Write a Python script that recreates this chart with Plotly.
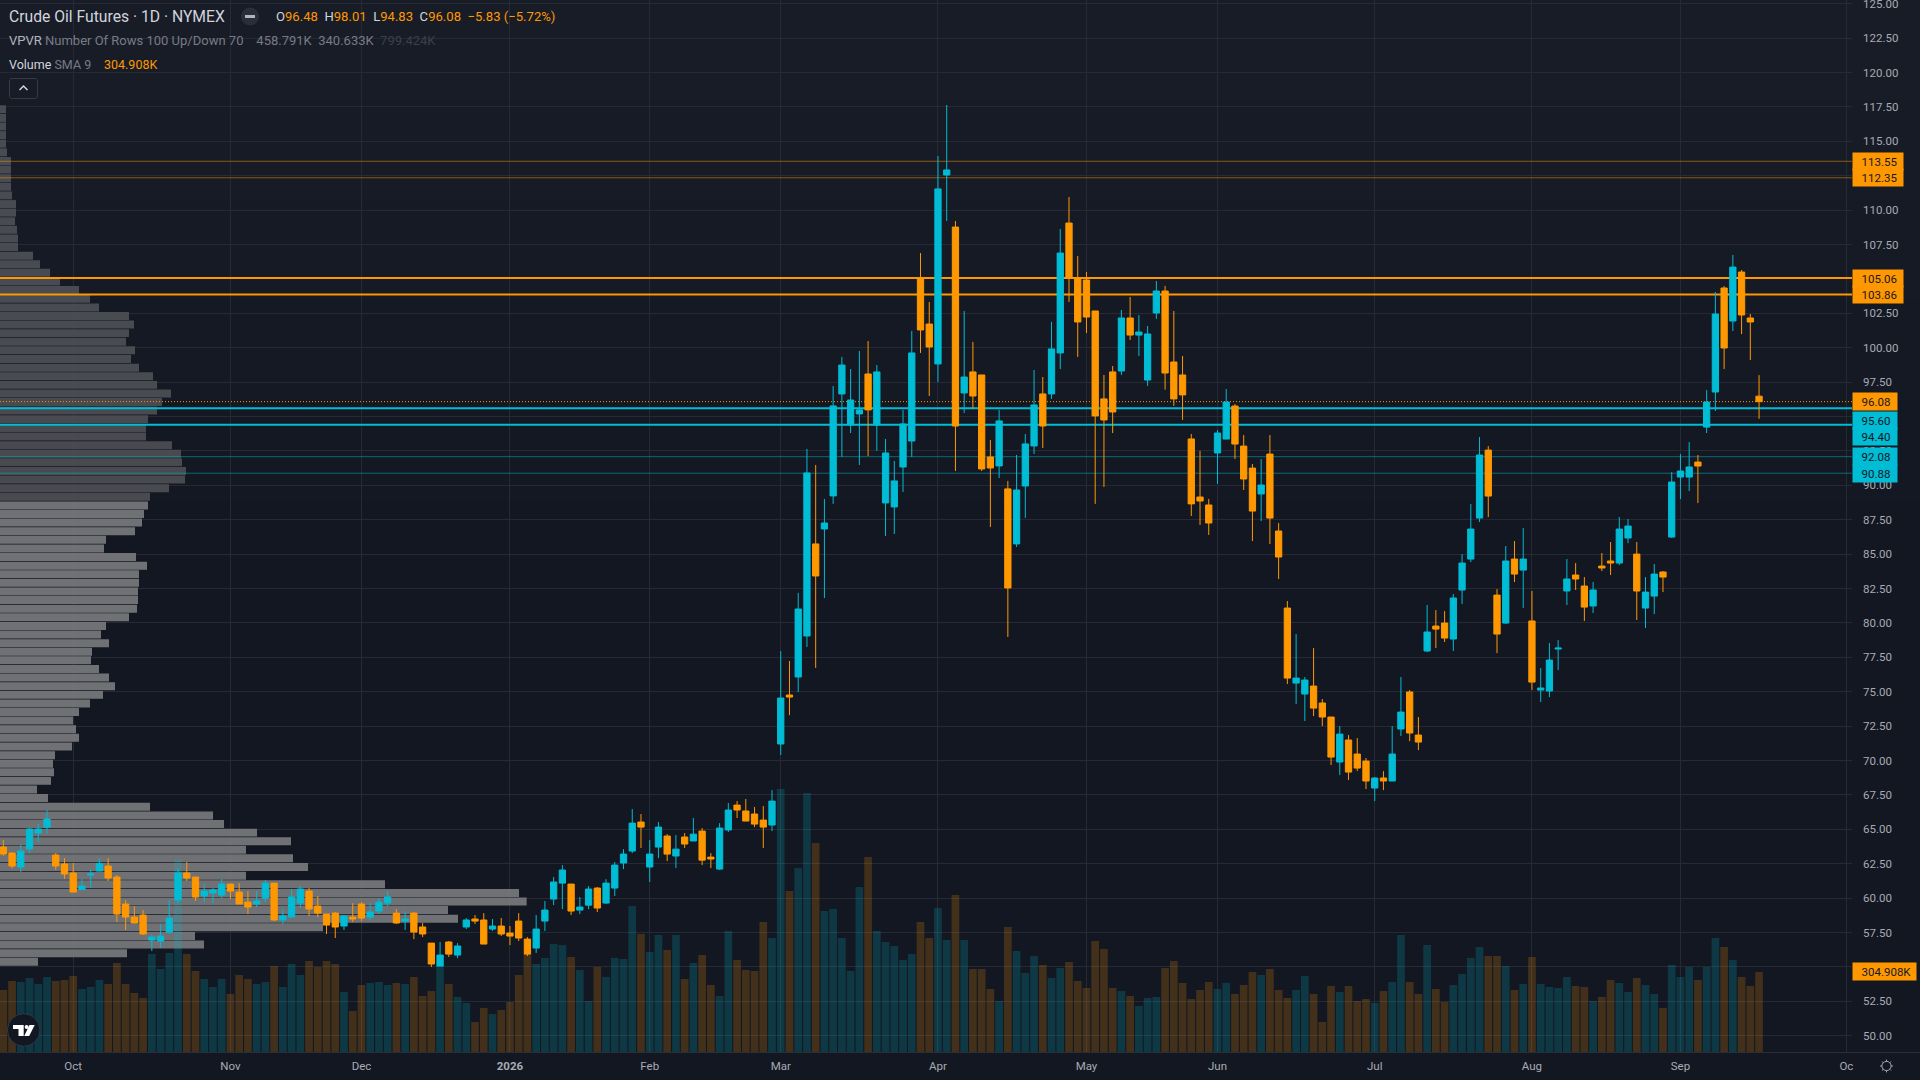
import math
import plotly.graph_objects as go

W, H = 1920, 1080
PLOT_R, PLOT_B = 1852, 1052

opens = [63.71,63.27,62.26,63.57,64.73,65.16,63.13,62.48,61.82,60.63,
61.68,61.97,62.33,61.53,59.57,58.62,58.77,56.95,56.88,57.53,
59.86,61.82,61.53,60.15,60.37,60.22,61.02,60.44,59.71,59.57,
60.00,61.09,58.41,58.62,59.64,60.51,59.42,58.84,58.91,57.97,
58.62,59.57,58.62,59.06,59.64,58.91,58.33,58.91,57.90,56.73,
55.06,56.81,55.86,57.90,58.48,58.41,57.75,57.97,57.46,58.33,
57.02,56.37,58.33,59.93,61.09,61.02,59.13,59.49,60.73,59.64,
60.73,62.55,63.42,65.53,62.26,63.71,64.51,63.06,64.44,64.15,
64.87,62.98,62.11,64.95,66.76,66.33,66.11,65.67,65.31,71.20,
74.76,76.07,79.05,85.74,86.83,89.23,96.64,94.39,95.19,98.09,
94.39,88.72,88.43,91.33,93.22,105.07,101.72,98.82,112.55,108.77,
96.71,98.24,98.02,92.06,91.41,89.74,85.74,89.95,92.86,96.64,
96.64,99.62,109.06,105.07,104.92,102.67,96.28,98.24,98.31,102.16,
100.92,97.65,102.52,104.12,98.96,98.02,93.37,89.15,88.57,92.35,
93.36,95.76,92.85,91.25,89.37,92.27,86.68,81.08,75.63,74.83,
75.41,74.18,73.16,69.89,71.49,70.47,69.96,68.00,68.73,68.51,
72.29,74.98,71.85,77.96,79.77,79.99,78.83,82.39,84.64,87.62,
92.56,82.02,79.99,84.64,83.84,80.14,75.12,75.05,78.10,82.32,
83.48,82.68,81.23,84.13,84.50,84.35,86.17,85.00,81.08,81.95,
83.70,86.24,90.60,90.60,91.69,94.23,96.78,104.34,101.94,105.50,102.16,96.48]

highs = [64.22,63.35,63.90,65.09,65.38,66.40,63.27,62.91,62.55,61.39,
62.11,62.91,62.91,61.68,59.86,59.42,59.13,57.32,58.12,59.86,
62.18,62.62,61.53,61.02,60.73,61.39,61.02,61.09,60.51,60.51,
61.31,61.09,59.21,60.66,60.88,60.73,60.15,58.84,58.99,58.77,
59.64,59.71,59.64,60.00,60.51,59.21,59.06,58.99,58.19,56.73,
56.81,56.88,56.73,58.55,58.77,58.91,58.48,58.55,57.97,58.91,
57.17,58.77,59.79,61.53,62.40,61.02,60.08,60.88,60.80,61.38,
62.62,63.56,66.47,66.11,64.22,65.53,64.65,64.58,64.73,65.82,
65.09,63.27,65.45,66.91,67.05,67.20,66.62,66.69,67.85,77.95,
77.23,82.18,92.64,91.48,89.01,97.22,99.33,98.45,99.76,100.49,
98.74,93.37,91.77,95.48,101.22,106.88,103.32,113.93,117.64,109.21,
102.67,100.42,98.02,93.30,95.48,90.32,92.21,93.73,98.38,97.87,
101.87,108.63,110.95,106.67,105.50,102.67,98.02,98.67,102.74,103.69,
102.38,101.58,104.85,104.49,102.67,99.40,93.73,92.50,89.01,94.02,
97.00,95.91,93.65,91.55,91.91,93.65,87.26,81.59,79.19,76.07,
78.17,74.47,73.16,72.50,71.85,71.63,70.18,68.80,69.23,72.50,
76.07,75.12,73.16,81.30,80.93,80.86,82.10,85.00,88.64,93.51,
92.85,82.46,85.59,85.95,86.89,82.32,76.72,78.54,78.75,84.64,
84.35,83.33,82.97,85.08,85.88,87.69,87.55,85.88,83.33,84.28,
83.77,90.96,92.27,93.14,92.20,96.92,104.05,104.48,106.74,105.65,102.45,98.01]

lows = [63.08,62.18,61.89,63.27,64.07,64.66,62.04,61.39,60.44,60.59,
60.73,61.97,61.24,58.26,57.68,58.19,57.32,56.15,56.37,57.39,
59.64,61.24,59.79,59.71,59.64,60.00,59.93,59.57,58.84,59.35,
59.71,58.33,58.12,58.62,59.28,58.70,58.62,57.39,57.10,57.68,
58.26,58.33,58.41,58.84,59.42,58.12,57.68,57.02,57.17,54.99,
55.06,55.72,55.64,57.75,58.12,56.66,57.61,57.24,56.59,56.88,
55.79,56.01,57.61,59.49,59.20,58.77,58.84,59.20,58.99,59.57,
60.15,62.11,63.27,63.64,61.17,62.91,62.69,62.18,63.64,64.15,
62.40,62.18,62.04,64.80,65.82,65.60,65.16,63.64,64.87,70.40,
73.30,74.97,78.25,76.73,81.81,88.65,92.06,93.80,91.48,92.13,
92.50,86.32,86.46,89.52,92.06,99.62,96.49,97.51,109.21,91.04,
95.26,95.55,91.04,86.97,90.53,78.98,85.52,87.63,92.28,92.71,
96.28,98.45,103.32,99.33,101.07,88.65,89.88,93.80,98.02,100.56,
99.40,97.22,102.09,96.95,95.77,94.75,87.77,87.12,86.39,90.10,
93.36,91.91,89.66,85.95,87.40,85.73,83.19,75.56,74.10,72.87,
73.23,72.50,69.67,68.94,68.58,69.23,67.93,67.05,67.85,68.51,
71.78,71.41,70.76,77.88,78.17,78.61,77.96,81.37,84.42,87.33,
87.69,77.81,79.92,82.97,81.08,75.12,74.25,74.61,76.57,81.30,
82.39,80.14,80.72,83.77,83.48,84.21,85.80,80.21,79.63,80.64,
82.24,86.17,89.00,89.58,88.71,93.80,95.40,98.45,101.21,100.99,99.10,94.83]

closes = [63.20,62.33,63.42,65.02,65.02,65.75,62.33,61.75,60.44,60.88,
61.75,62.52,61.46,58.84,58.62,58.19,57.39,57.17,57.24,58.55,
61.82,61.46,60.08,60.51,60.59,61.02,60.51,59.57,59.35,59.79,
61.09,58.41,58.70,60.08,60.66,59.21,58.91,58.04,57.90,58.70,
58.48,58.55,58.99,59.71,60.08,58.19,58.48,57.53,57.39,55.21,
55.86,55.93,56.52,58.41,58.33,56.66,57.97,57.39,57.24,57.10,
55.93,57.75,59.13,61.17,62.04,59.06,59.35,60.66,59.28,61.09,
62.40,63.20,65.45,65.16,63.20,65.16,63.20,63.56,63.93,64.65,
62.76,62.84,65.09,66.40,66.40,65.60,65.38,65.16,67.05,74.54,
74.61,81.01,90.90,83.41,87.26,95.77,98.74,96.20,95.48,95.48,
98.24,92.35,90.32,94.46,99.62,101.29,100.05,111.54,112.92,94.31,
97.87,96.49,91.19,91.26,94.68,82.54,89.66,93.01,95.84,94.31,
99.91,106.88,105.07,101.87,102.23,95.04,94.75,95.33,102.16,100.92,
101.14,101.00,104.12,98.16,96.28,96.57,88.65,88.86,87.26,93.80,
96.05,93.00,90.46,88.13,90.02,87.62,84.79,75.99,75.99,75.85,
73.81,73.16,70.25,71.92,69.16,69.45,68.51,68.73,68.51,70.47,
73.52,72.00,71.34,79.34,79.55,78.90,81.81,84.35,86.82,92.20,
89.22,79.19,84.50,83.55,84.64,75.70,75.27,77.30,78.17,83.19,
83.19,81.15,82.39,83.99,84.35,86.82,87.04,82.32,82.24,83.55,
83.33,90.24,91.04,91.33,91.40,96.05,102.45,99.98,105.86,102.38,101.87,96.08]

volume_k = [236.3,270.6,266.8,282.1,259.2,285.9,270.6,274.4,289.7,240.1,
247.7,274.4,259.2,339.2,259.2,224.9,205.8,373.5,316.4,377.3,
731.8,373.5,308.7,278.2,247.7,278.2,221.1,293.5,278.2,259.2,
266.8,327.8,247.7,335.4,293.5,346.8,324.0,346.8,335.4,228.7,
156.3,255.4,263.0,266.8,255.4,263.0,259.2,285.9,213.4,232.5,
331.6,259.2,209.6,186.8,114.3,167.7,144.8,160.1,190.6,293.5,
373.5,335.4,358.3,411.6,407.8,362.1,312.5,194.4,324.0,285.9,
358.3,354.5,556.5,449.8,381.2,445.9,388.8,445.9,278.2,339.2,
369.7,255.4,213.4,461.2,350.7,312.5,308.7,495.5,434.5,1002.4,
613.7,701.3,987.2,796.6,537.4,545.0,434.5,308.7,628.9,743.2,
461.2,419.3,404.0,350.7,373.5,495.5,434.5,548.9,426.9,598.4,
426.9,316.4,316.4,240.1,194.4,476.4,385.0,301.1,365.9,331.6,
282.1,320.2,343.0,270.6,243.9,423.1,392.6,243.9,232.5,213.4,
175.3,205.8,209.6,320.2,346.8,263.0,202.0,236.3,266.8,240.1,
263.0,221.1,255.4,304.9,293.5,316.4,236.3,205.8,236.3,289.7,
221.1,114.3,251.6,228.7,251.6,194.4,202.0,186.8,232.5,266.8,
445.9,266.8,221.1,407.8,240.1,190.6,255.4,297.3,358.3,400.2,
365.9,365.9,327.8,236.3,259.2,362.1,259.2,247.7,243.9,285.9,
251.6,247.7,194.4,209.6,274.4,263.0,228.7,282.1,255.4,221.1,
167.7,331.6,285.9,324.0,274.4,324.0,434.5,400.2,350.7,285.9,251.6,304.9]

vpvr_price = [117.33,116.70,116.08,115.45,114.83,114.20,113.57,112.95,112.32,111.70,
111.07,110.44,109.82,109.19,108.57,107.94,107.32,106.69,106.06,105.44,
104.81,104.19,103.56,102.93,102.31,101.68,101.06,100.43,99.81,99.18,
98.55,97.93,97.30,96.68,96.05,95.43,94.80,94.17,93.55,92.92,
92.30,91.67,91.04,90.42,89.79,89.17,88.54,87.92,87.29,86.66,
86.04,85.41,84.79,84.16,83.53,82.91,82.28,81.66,81.03,80.41,
79.78,79.15,78.53,77.90,77.28,76.65,76.03,75.40,74.77,74.15,
73.52,72.90,72.27,71.65,71.02,70.39,69.77,69.14,68.52,67.89,
67.27,66.64,66.01,65.39,64.76,64.14,63.51,62.89,62.26,61.63,
61.01,60.38,59.76,59.13,58.50,57.88,57.25,56.63,56.00,55.38]

vpvr_volume = [18,18,18,18,18,21,33,33,33,33,
36,48,48,45,51,54,54,99,120,150,
180,237,270,297,387,402,387,378,405,393,
417,459,471,513,486,471,444,438,438,516,
543,546,558,555,507,450,444,432,426,405,
318,312,408,441,417,417,414,414,411,387,
318,303,327,276,273,297,327,345,309,270,
237,219,228,237,216,165,159,162,153,111,
144,450,639,672,771,873,738,879,924,738,
1155,1557,1580,1344,1374,969,585,612,381,114]

ytick_vals = [50,52.5,55,57.5,60,62.5,65,67.5,70,72.5,75,77.5,80,82.5,85,87.5,90,92.5,95,97.5,
              100,102.5,105,107.5,110,112.5,115,117.5,120,122.5,125]
ytick_text = ["50.00","52.50","55.00","57.50","60.00","62.50","65.00","67.50","70.00","72.50","75.00",
              "77.50","80.00","82.50","85.00","87.50","90.00","92.50","","97.50","100.00","102.50","",
              "107.50","110.00","","115.00","117.50","120.00","122.50",""]
top_tick_value = 125.0
xtick_bar = [8,26,41,58,74,89,107,124,139,157,175,192,211]
xtick_text = ["Oct","Nov","Dec","<b>2026</b>","Feb","Mar","Apr","May","Jun","Jul","Aug","Sep","Oc"]

thin_orange_levels = [113.55,112.35]
thick_orange_levels = [105.06,103.86]
thick_teal_levels = [95.60,94.40]
thin_teal_levels = [92.08,90.88]
last_price = 96.08
last_volume_k = 304.908

UP = "#00bcd4"
DOWN = "#ff9800"
FONT = "Roboto"
bars = list(range(len(closes)))

def fx(x): return x / W
def fy(y): return 1 - y / H

price_range = [125.27 - PLOT_B / 13.76, 125.27]
bar_range = [-0.381, 211.64]
vpvr_range = [0, 3 * PLOT_R]
xdom = [0, fx(PLOT_R)]
ydom = [fy(PLOT_B), 1]

fig = go.Figure()
fig.add_trace(go.Bar(
    y=vpvr_price, x=vpvr_volume, orientation="h", width=0.58,
    marker=dict(color=["rgba(77,79,85,0.92)" if k <= 45 else "rgba(120,121,125,0.92)" for k in range(len(vpvr_price))],
                line_width=0),
    xaxis="x", yaxis="y", hoverinfo="skip", showlegend=False))

def hline(level, color, width, dash="solid"):
    fig.add_trace(go.Scatter(x=vpvr_range, y=[level, level], mode="lines",
                             line=dict(color=color, width=width, dash=dash),
                             xaxis="x", yaxis="y", hoverinfo="skip", showlegend=False))
for v in thin_orange_levels: hline(v, "rgba(255,152,0,0.5)", 1)
for v in thick_orange_levels: hline(v, DOWN, 2)
for v in thick_teal_levels: hline(v, UP, 2)
for v in thin_teal_levels: hline(v, "rgba(0,188,212,0.5)", 1)
hline(last_price, DOWN, 1, "1px,2px")

fig.add_trace(go.Bar(
    x=bars, y=volume_k, width=0.88,
    marker=dict(color=["rgba(0,188,212,0.2)" if c >= o else "rgba(255,152,0,0.2)" for o, c in zip(opens, closes)],
                line_width=0),
    xaxis="x2", yaxis="y2", hoverinfo="skip", showlegend=False))
fig.add_trace(go.Candlestick(
    x=bars, open=opens, high=highs, low=lows, close=closes,
    increasing=dict(line=dict(color=UP, width=1), fillcolor=UP),
    decreasing=dict(line=dict(color=DOWN, width=1), fillcolor=DOWN),
    whiskerwidth=0, xaxis="x3", yaxis="y3", hoverinfo="skip", showlegend=False))

shapes = []
# Page background fades slightly from top to middle
bg = ["#181c27", "#171b26", "#161a25", "#151924", "#141823", "#131722"]
for k, c in enumerate(bg[:-1]):
    shapes.append(dict(type="rect", xref="paper", yref="paper", x0=0, x1=1,
                       y0=fy((k + 1) * 100), y1=fy(k * 100), fillcolor=c, line_width=0, layer="below"))

shapes.append(dict(type="line", xref="paper", yref="paper", x0=0, x1=1, y0=fy(PLOT_B + .5), y1=fy(PLOT_B + .5),
                   line=dict(color="#2a2e39", width=1), layer="above"))

def pxpath(pts, close=True):
    s = "M" + " L".join(f"{fx(x):.5f},{fy(y):.5f}" for x, y in pts)
    return s + (" Z" if close else "")

def circle(cx, cy, r, fill, line="rgba(0,0,0,0)", lw=0):
    shapes.append(dict(type="circle", xref="paper", yref="paper", x0=fx(cx - r), x1=fx(cx + r),
                       y0=fy(cy + r), y1=fy(cy - r), fillcolor=fill, line=dict(color=line, width=lw), layer="above"))

# hide-indicator icon
circle(250, 16.5, 9, "#2a2e39")
shapes.append(dict(type="rect", xref="paper", yref="paper", x0=fx(245), x1=fx(255), y0=fy(18), y1=fy(15),
                   fillcolor="#b2b5be", line_width=0, layer="above"))
# collapse button
shapes.append(dict(type="path", xref="paper", yref="paper",
                   path=pxpath([(11, 78.5), (36, 78.5), (37.5, 80), (37.5, 97), (36, 98.5), (11, 98.5), (9.5, 97), (9.5, 80)]),
                   line=dict(color="#363a45", width=1), fillcolor="rgba(0,0,0,0)", layer="above"))
shapes.append(dict(type="path", xref="paper", yref="paper", path=pxpath([(19.5, 90), (23.5, 86), (27.5, 90)], False),
                   line=dict(color="#d1d4dc", width=1.5), layer="above"))
# logo
circle(23.7, 1030, 16.3, "#131722", "#2c3a44", 1)
shapes.append(dict(type="path", xref="paper", yref="paper",
                   path=pxpath([(13, 1025), (23.7, 1025), (23.7, 1036), (18.5, 1036), (18.5, 1029), (13, 1029)]),
                   fillcolor="#ffffff", line_width=0, layer="above"))
shapes.append(dict(type="path", xref="paper", yref="paper",
                   path=pxpath([(29.5, 1025), (34.7, 1025), (29.2, 1036), (24.2, 1036)]),
                   fillcolor="#ffffff", line_width=0, layer="above"))
circle(26.6, 1027, 2, "#ffffff")
# settings gear
gx, gy = 1886.5, 1066
circle(gx, gy, 4.6, "rgba(0,0,0,0)", "#a8abb3", 1)
for k in range(8):
    a = k * math.pi / 4
    shapes.append(dict(type="path", xref="paper", yref="paper",
                       path=pxpath([(gx + 4.6 * math.cos(a), gy + 4.6 * math.sin(a)),
                                    (gx + 6.4 * math.cos(a), gy + 6.4 * math.sin(a))], False),
                       line=dict(color="#a8abb3", width=1), layer="above"))

ann = []
def text(x, y, t, size=12.5, color="#d1d4dc"):
    ann.append(dict(xref="paper", yref="paper", x=fx(x), y=fy(y), text=t, showarrow=False, xanchor="left",
                    yanchor="middle", align="left", borderpad=0, font=dict(family=FONT, size=size, color=color)))
def span(t, c): return f'<span style="color:{c}">{t}</span>'
text(8, 16.5, "Crude Oil Futures · 1D · NYMEX", 15.7)
text(275, 16.5, "O" + span("96.48", DOWN) + "&nbsp;&nbsp;H" + span("98.01", DOWN) + "&nbsp;&nbsp;L" + span("94.83", DOWN)
     + "&nbsp;&nbsp;C" + span("96.08", DOWN) + "&nbsp;&nbsp;" + span("−5.83 (−5.72%)", DOWN), 13.1)
text(8, 40.5, "VPVR " + span("Number Of Rows 100 Up/Down 70", "#787b86") + "&nbsp;&nbsp;&nbsp;&nbsp;"
     + span("458.791K&nbsp;&nbsp;340.633K", "#787b86") + "&nbsp;&nbsp;" + span("799.424K", "#3c3f47"), 13, "#b2b5be")
text(8, 64.5, "Volume " + span("SMA 9", "#787b86"), 12.5)
text(102.5, 64.5, "304.908K", 12.5, DOWN)
# topmost price label sits right against the page edge, so it is placed as its own text
ann.append(dict(xref="paper", yref="y3", x=fx(PLOT_R + 10), y=top_tick_value, text=f"{top_tick_value:.2f}",
                showarrow=False, xanchor="left", yanchor="middle", borderpad=0,
                font=dict(family=FONT, size=11.5, color="#a8abb3")))

def tag(y, yref, t, width, bg, yshift=0):
    ann.append(dict(xref="paper", yref=yref, x=fx(PLOT_R), y=y, text="&nbsp;&nbsp;&nbsp;" + t, showarrow=False,
                    xanchor="left", yanchor="middle", align="left", width=width, height=17, bgcolor=bg, borderpad=0,
                    yshift=yshift, font=dict(family=FONT, size=11.5, color="#131722")))
for v in thin_orange_levels + thick_orange_levels:
    tag(v, "y3", f"{v:.2f}", 50, DOWN)
tag(last_price, "y3", f"{last_price:.2f}", 44, DOWN)
# the two tags below the last price are pushed down so they do not collide with it
tag(thick_teal_levels[0], "y3", f"{thick_teal_levels[0]:.2f}", 44, UP, yshift=-12)
tag(thick_teal_levels[1], "y3", f"{thick_teal_levels[1]:.2f}", 44, UP, yshift=-12)
for v in thin_teal_levels:
    tag(v, "y3", f"{v:.2f}", 44, UP)
tag(last_volume_k, "y2", f"{last_volume_k:.3f}K", 63, DOWN)

hidden = dict(visible=False, fixedrange=True)
fig.update_layout(
    width=W, height=H, autosize=False, margin=dict(l=0, r=0, t=0, b=0, pad=0),
    paper_bgcolor="#131722", plot_bgcolor="rgba(0,0,0,0)",
    barmode="overlay", boxmode="overlay", boxgap=0.28, boxgroupgap=0,
    shapes=shapes, annotations=ann, showlegend=False,
    font=dict(family=FONT, size=11.5, color="#a8abb3"),
    xaxis=dict(domain=xdom, range=vpvr_range, anchor="y", **hidden),
    yaxis=dict(domain=ydom, range=price_range, anchor="x", **hidden),
    xaxis2=dict(domain=xdom, range=bar_range, overlaying="x", anchor="y2", **hidden),
    yaxis2=dict(domain=ydom, range=[0, PLOT_B * 3.811], overlaying="y", anchor="x2", **hidden),
    xaxis3=dict(domain=xdom, range=bar_range, overlaying="x", anchor="y3", side="bottom",
                tickmode="array", tickvals=xtick_bar, ticktext=xtick_text, ticks="", showline=False,
                showgrid=True, gridcolor="#262a35", gridwidth=1, zeroline=False, rangeslider=dict(visible=False),
                ticklabelstandoff=5, tickfont=dict(family=FONT, size=11.5, color="#a8abb3"), fixedrange=True),
    yaxis3=dict(domain=ydom, range=price_range, overlaying="y", anchor="x3", side="right",
                tickmode="array", tickvals=ytick_vals, ticktext=ytick_text, ticks="", showline=False,
                showgrid=True, gridcolor="#262a35", gridwidth=1, zeroline=False,
                ticklabelstandoff=10, tickfont=dict(family=FONT, size=11.5, color="#a8abb3"), fixedrange=True),
)

fig.write_html("out.html", config=dict(displayModeBar=False),
               post_script="document.body.style.margin='0';document.body.style.overflow='hidden';")
